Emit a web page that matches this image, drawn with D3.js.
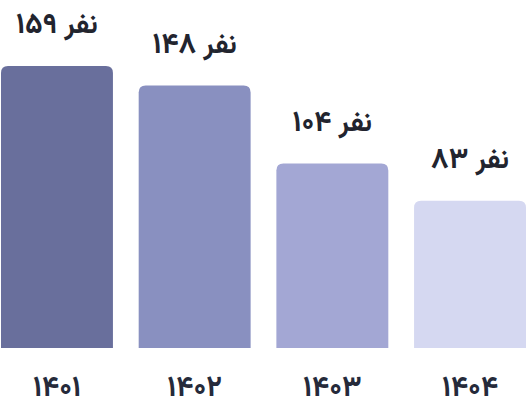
<!DOCTYPE html>
<html><head><meta charset="utf-8">
<script src="https://cdn.jsdelivr.net/npm/d3@7"></script>
<style>html,body{margin:0;padding:0;background:#fff;}svg{display:block;}</style>
</head><body><svg id="c" width="528" height="415"></svg>
<script>
const years = ["۱۴۰۱","۱۴۰۲","۱۴۰۳","۱۴۰۴"];
const values = [159, 148, 104, 83];
const valueDigits = ["۱۵۹","۱۴۸","۱۰۴","۸۳"];
const unitLabel = "نفر";
const colors = ["#696f9c","#8990c0","#a3a7d4","#d5d8f1"];

const svg = d3.select("#c");
const x = d3.scaleBand().domain(years).range([1, 526]).paddingInner(0.187).paddingOuter(0);
const y = d3.scaleLinear().domain([0, 159]).range([348, 66]);
const r = 7;
function barPath(x0, w, yt, yb){
  return `M${x0},${yb}V${yt+r}Q${x0},${yt} ${x0+r},${yt}H${x0+w-r}Q${x0+w},${yt} ${x0+w},${yt+r}V${yb}Z`;
}
const font = "Vazirmatn, 'DejaVu Sans', sans-serif";
years.forEach((yr,i)=>{
  const x0 = x(yr), w = x.bandwidth();
  svg.append("path").attr("d", barPath(x0, w, y(values[i]), y(0))).attr("fill", colors[i]);
  const t = svg.append("text").attr("x", x0 + w/2).attr("y", y(values[i]) - 33)
    .attr("text-anchor","middle").attr("direction","ltr").attr("font-family",font).attr("font-weight","bold")
    .attr("fill","#22242e");
  t.append("tspan").attr("font-size",29).text("\u200E" + valueDigits[i] + " ");
  t.append("tspan").attr("font-size",28).text(unitLabel);
});
const ax = svg.append("g").attr("transform","translate(0,348)")
  .call(d3.axisBottom(x).tickSize(0));
ax.select(".domain").remove();
ax.selectAll("text").attr("y",48).attr("dy",0).attr("font-family",font).attr("font-weight","bold")
  .attr("font-size",29).attr("fill","#252a3a");
</script></body></html>
